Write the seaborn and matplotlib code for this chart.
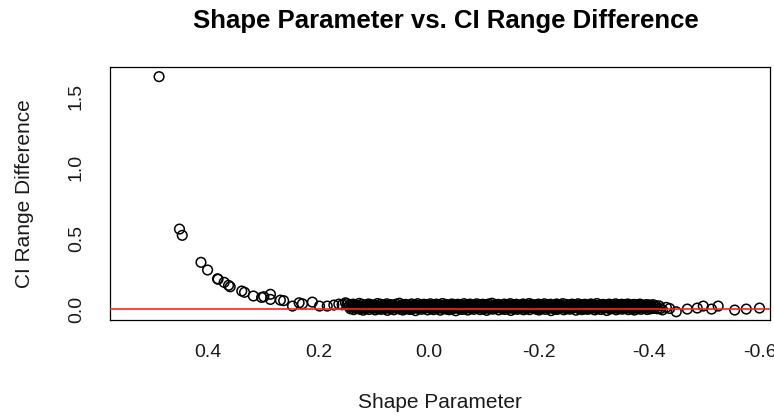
import matplotlib

matplotlib.use("Agg")
import matplotlib.pyplot as plt
import pandas as pd
import seaborn as sns

# large shape values: CI difference decays quickly
decay_shape = [0.489, 0.452, 0.447, 0.413, 0.401, 0.383, 0.382, 0.371, 0.363, 0.360,
               0.339, 0.334, 0.318, 0.303, 0.299, 0.287, 0.287, 0.269, 0.263, 0.247,
               0.235, 0.229, 0.211, 0.198, 0.184, 0.172, 0.163, 0.157, 0.151]
decay_ci = [1.636, 0.563, 0.519, 0.329, 0.275, 0.213, 0.210, 0.188, 0.167, 0.157,
            0.127, 0.118, 0.092, 0.082, 0.087, 0.104, 0.068, 0.063, 0.059, 0.021,
            0.044, 0.037, 0.049, 0.021, 0.021, 0.028, 0.035, 0.030, 0.044]

# dense band near zero, upper part
band_a_shape = [0.148, 0.143, 0.137, 0.132, 0.126, 0.121, 0.115, 0.109, 0.104, 0.098,
                0.093, 0.087, 0.081, 0.076, 0.070, 0.065, 0.059, 0.053, 0.048, 0.042,
                0.037, 0.031, 0.025, 0.020, 0.014, 0.009, 0.003, -0.003, -0.008, -0.014,
                -0.019, -0.025, -0.031, -0.036, -0.042, -0.047, -0.053, -0.059, -0.064, -0.070,
                -0.075, -0.081, -0.087, -0.092, -0.098, -0.103, -0.109, -0.115, -0.120, -0.126,
                -0.131, -0.137, -0.143, -0.148, -0.154, -0.159, -0.165, -0.171, -0.176, -0.182,
                -0.187, -0.193, -0.199, -0.204, -0.210, -0.215, -0.221, -0.227, -0.232, -0.238,
                -0.243, -0.249, -0.255, -0.260, -0.266, -0.271, -0.277, -0.283, -0.288, -0.294,
                -0.299, -0.305, -0.311, -0.316, -0.322, -0.327, -0.333, -0.339, -0.344, -0.350,
                -0.355, -0.361, -0.367, -0.372, -0.378, -0.383, -0.389, -0.395, -0.401, -0.407]
band_a_ci = [0.038, 0.031, 0.035, 0.028, 0.040, 0.033, 0.029, 0.036, 0.031, 0.027,
             0.039, 0.034, 0.030, 0.037, 0.032, 0.028, 0.035, 0.041, 0.030, 0.033,
             0.027, 0.036, 0.031, 0.038, 0.029, 0.034, 0.032, 0.037, 0.028, 0.035,
             0.030, 0.039, 0.033, 0.027, 0.036, 0.031, 0.034, 0.029, 0.038, 0.032,
             0.035, 0.028, 0.037, 0.031, 0.034, 0.030, 0.036, 0.041, 0.029, 0.033,
             0.027, 0.035, 0.032, 0.038, 0.030, 0.034, 0.028, 0.036, 0.031, 0.039,
             0.033, 0.029, 0.035, 0.032, 0.037, 0.030, 0.034, 0.028, 0.036, 0.031,
             0.038, 0.033, 0.029, 0.035, 0.031, 0.037, 0.030, 0.034, 0.027, 0.036,
             0.032, 0.039, 0.030, 0.033, 0.028, 0.035, 0.031, 0.037, 0.029, 0.034,
             0.032, 0.036, 0.028, 0.033, 0.030, 0.035, 0.027, 0.032, 0.029, 0.031]

# dense band, middle part
band_b_shape = [0.145, 0.140, 0.134, 0.129, 0.123, 0.118, 0.112, 0.106, 0.101, 0.095,
                0.090, 0.084, 0.078, 0.073, 0.067, 0.062, 0.056, 0.050, 0.045, 0.039,
                0.034, 0.028, 0.022, 0.017, 0.011, 0.006, 0.000, -0.006, -0.011, -0.017,
                -0.022, -0.028, -0.034, -0.039, -0.045, -0.050, -0.056, -0.062, -0.067, -0.073,
                -0.078, -0.084, -0.090, -0.095, -0.101, -0.106, -0.112, -0.118, -0.123, -0.129,
                -0.134, -0.140, -0.146, -0.151, -0.157, -0.162, -0.168, -0.174, -0.179, -0.185,
                -0.190, -0.196, -0.202, -0.207, -0.213, -0.218, -0.224, -0.230, -0.235, -0.241,
                -0.246, -0.252, -0.258, -0.263, -0.269, -0.274, -0.280, -0.286, -0.291, -0.297,
                -0.302, -0.308, -0.314, -0.319, -0.325, -0.330, -0.336, -0.342, -0.347, -0.353,
                -0.358, -0.364, -0.370, -0.375, -0.381, -0.386, -0.392, -0.398, -0.404, -0.410]
band_b_ci = [0.018, 0.014, 0.020, 0.016, 0.012, 0.019, 0.015, 0.021, 0.013, 0.017,
             0.015, 0.019, 0.012, 0.018, 0.016, 0.022, 0.014, 0.017, 0.013, 0.020,
             0.016, 0.012, 0.019, 0.015, 0.021, 0.013, 0.018, 0.014, 0.020, 0.016,
             0.012, 0.019, 0.015, 0.017, 0.013, 0.021, 0.016, 0.014, 0.018, 0.012,
             0.020, 0.015, 0.017, 0.013, 0.019, 0.016, 0.022, 0.014, 0.018, 0.015,
             0.012, 0.019, 0.016, 0.020, 0.013, 0.017, 0.015, 0.021, 0.014, 0.018,
             0.016, 0.012, 0.019, 0.015, 0.017, 0.013, 0.020, 0.016, 0.014, 0.018,
             0.015, 0.021, 0.013, 0.017, 0.016, 0.012, 0.019, 0.014, 0.018, 0.015,
             0.017, 0.013, 0.020, 0.016, 0.014, 0.018, 0.012, 0.019, 0.015, 0.017,
             0.013, 0.016, 0.019, 0.014, 0.017, 0.012, 0.015, 0.018, 0.013, 0.016]

# dense band, lower part
band_c_shape = [0.142, 0.136, 0.131, 0.125, 0.119, 0.114, 0.108, 0.103, 0.097, 0.091,
                0.086, 0.080, 0.075, 0.069, 0.063, 0.058, 0.052, 0.047, 0.041, 0.035,
                0.030, 0.024, 0.019, 0.013, 0.007, 0.002, -0.004, -0.009, -0.015, -0.021,
                -0.026, -0.032, -0.037, -0.043, -0.049, -0.054, -0.060, -0.065, -0.071, -0.077,
                -0.082, -0.088, -0.093, -0.099, -0.105, -0.110, -0.116, -0.121, -0.127, -0.133,
                -0.138, -0.144, -0.149, -0.155, -0.161, -0.166, -0.172, -0.177, -0.183, -0.189,
                -0.194, -0.200, -0.205, -0.211, -0.217, -0.222, -0.228, -0.233, -0.239, -0.245,
                -0.250, -0.256, -0.261, -0.267, -0.273, -0.278, -0.284, -0.289, -0.295, -0.301,
                -0.306, -0.312, -0.317, -0.323, -0.329, -0.334, -0.340, -0.345, -0.351, -0.357,
                -0.362, -0.368, -0.373, -0.379, -0.385, -0.390, -0.396, -0.402, -0.408, -0.415]
band_c_ci = [0.002, -0.004, 0.005, -0.001, -0.008, 0.003, -0.003, 0.006, -0.006, 0.001,
             -0.002, 0.004, -0.009, 0.002, -0.005, 0.005, -0.001, -0.007, 0.003, -0.003,
             0.001, -0.011, 0.004, -0.002, 0.006, -0.006, 0.002, -0.004, 0.003, -0.008,
             0.005, -0.001, -0.005, 0.002, -0.012, 0.004, -0.003, 0.001, -0.007, 0.003,
             -0.002, 0.006, -0.004, 0.001, -0.009, 0.003, -0.001, 0.005, -0.006, 0.002,
             -0.003, 0.004, -0.010, 0.001, -0.002, 0.005, -0.005, 0.002, -0.004, 0.006,
             0.000, -0.007, 0.003, -0.002, 0.004, -0.011, 0.001, -0.003, 0.005, -0.005,
             0.002, -0.001, 0.006, -0.008, 0.003, -0.004, 0.001, -0.002, 0.004, -0.006,
             0.003, -0.003, 0.005, -0.010, 0.000, 0.004, -0.005, 0.002, -0.001, 0.006,
             -0.004, 0.002, -0.007, 0.003, -0.002, 0.005, -0.003, 0.001, 0.004, 0.002]

# dense band, filler points between the rows
band_d_shape = [0.139, 0.133, 0.128, 0.122, 0.117, 0.111, 0.105, 0.100, 0.094, 0.089,
                0.083, 0.077, 0.072, 0.066, 0.061, 0.055, 0.049, 0.044, 0.038, 0.033,
                0.027, 0.021, 0.016, 0.010, 0.005, -0.001, -0.007, -0.012, -0.018, -0.023,
                -0.029, -0.035, -0.040, -0.046, -0.051, -0.057, -0.063, -0.068, -0.074, -0.079,
                -0.085, -0.091, -0.096, -0.102, -0.107, -0.113, -0.119, -0.124, -0.130, -0.135,
                -0.141, -0.147, -0.152, -0.158, -0.163, -0.169, -0.175, -0.180, -0.186, -0.191,
                -0.197, -0.203, -0.208, -0.214, -0.219, -0.225, -0.231, -0.236, -0.242, -0.247,
                -0.253, -0.259, -0.264, -0.270, -0.275, -0.281, -0.287, -0.292, -0.298, -0.303,
                -0.309, -0.315, -0.320, -0.326, -0.331, -0.337, -0.343, -0.348, -0.354, -0.359,
                -0.365, -0.371, -0.376, -0.382, -0.387, -0.393, -0.399, -0.405, -0.412, -0.420]
band_d_ci = [0.024, 0.008, 0.026, 0.007, 0.023, 0.009, 0.025, 0.006, 0.024, 0.010,
             0.026, 0.008, 0.022, 0.007, 0.025, 0.009, 0.023, 0.008, 0.026, 0.006,
             0.024, 0.010, 0.025, 0.007, 0.023, 0.009, 0.026, 0.008, 0.022, 0.007,
             0.025, 0.009, 0.024, 0.006, 0.026, 0.008, 0.023, 0.010, 0.025, 0.007,
             0.022, 0.009, 0.026, 0.008, 0.024, 0.006, 0.025, 0.010, 0.023, 0.007,
             0.026, 0.008, 0.024, 0.009, 0.022, 0.007, 0.025, 0.008, 0.026, 0.010,
             0.023, 0.006, 0.025, 0.009, 0.024, 0.008, 0.026, 0.007, 0.022, 0.009,
             0.025, 0.010, 0.023, 0.008, 0.026, 0.006, 0.024, 0.009, 0.025, 0.007,
             0.022, 0.008, 0.026, 0.009, 0.023, 0.010, 0.025, 0.007, 0.024, 0.008,
             0.026, 0.006, 0.023, 0.009, 0.025, 0.008, 0.022, 0.007, 0.024, 0.003]

# sparse negative tail
tail_shape = [-0.418, -0.424, -0.431, -0.437, -0.449, -0.469, -0.487, -0.498, -0.513,
              -0.525, -0.555, -0.576, -0.600]
tail_ci = [0.022, -0.006, 0.012, 0.004, -0.019, 0.000, 0.007, 0.021, 0.000,
           0.021, -0.007, 0.000, 0.007]

x_ticks = [0.4, 0.2, 0.0, -0.2, -0.4, -0.6]
y_ticks = [0.0, 0.5, 1.0, 1.5]

df = pd.DataFrame({
    "shape": decay_shape + band_a_shape + band_b_shape + band_c_shape + band_d_shape + tail_shape,
    "ci_diff": decay_ci + band_a_ci + band_b_ci + band_c_ci + band_d_ci + tail_ci,
})

sns.set_style("white")
plt.rcParams["font.family"] = ["Liberation Sans", "DejaVu Sans"]

fig = plt.figure(figsize=(7.74, 4.16), dpi=100)
ax = fig.add_axes([110 / 774, 96 / 416, 660 / 774, 253 / 416])

sns.scatterplot(data=df, x="shape", y="ci_diff", ax=ax, marker="o", s=48,
                facecolor="none", edgecolor="black", linewidth=1.1, zorder=2)
ax.axhline(0, color="#ff2020", linewidth=1.2, zorder=3)

ax.set_xlim(0.578, -0.619)
ax.set_ylim(-0.077, 1.704)
ax.set_xticks(x_ticks)
ax.set_xticklabels([f"{v:.1f}" for v in x_ticks])
ax.set_yticks(y_ticks)
ax.set_yticklabels([f"{v:.1f}" for v in y_ticks], rotation=90, va="center")

for spine in ax.spines.values():
    spine.set_visible(True)
    spine.set_color("black")
    spine.set_linewidth(0.9)

ax.tick_params(axis="both", direction="out", length=9, width=0.9, color="#333333",
               labelsize=14, labelcolor="#1a1a1a")
ax.tick_params(axis="x", pad=8)
ax.tick_params(axis="y", pad=9)

ax.set_xlabel("Shape Parameter", fontsize=15, color="#1a1a1a")
ax.set_ylabel("CI Range Difference", fontsize=15, color="#1a1a1a")
ax.xaxis.set_label_coords(0.5, -0.29)
ax.yaxis.set_label_coords(-0.115, 0.5)

fig.text(446 / 774, 1 - 21 / 416, "Shape Parameter vs. CI Range Difference",
         ha="center", va="center", fontsize=18.5, fontweight="bold", color="black")

fig.savefig("out.png", dpi=100)
